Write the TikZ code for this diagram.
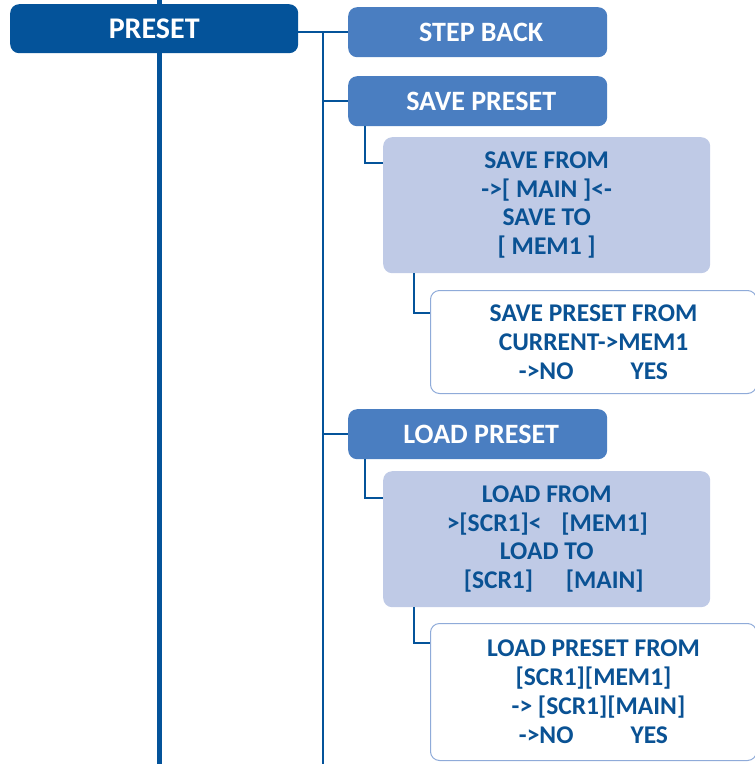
\documentclass[tikz,border=0pt]{standalone}
\usepackage{fontspec}
\setmainfont{Carlito}
\usetikzlibrary{calc}
\definecolor{darkblue}{HTML}{04539A}
\definecolor{midblue}{HTML}{4A7EC1}
\definecolor{lightblue}{HTML}{BFCAE6}
\definecolor{textblue}{HTML}{0A5294}
\definecolor{borderblue}{HTML}{8FABD9}
\begin{document}
\begin{tikzpicture}[x=1pt,y=-1pt,
  mainbox/.style={anchor=north west,fill=darkblue,text=white,rounded corners=9pt,inner sep=0pt,
     minimum width=288pt,minimum height=49pt,font=\bfseries\fontsize{30}{34}\selectfont},
  btnbox/.style={anchor=north west,fill=midblue,text=white,rounded corners=9pt,inner sep=0pt,
     minimum width=259pt,minimum height=50pt,font=\bfseries\fontsize{28}{32}\selectfont},
  infobox/.style={anchor=north west,fill=lightblue,text=textblue,rounded corners=9pt,inner sep=0pt,
     minimum width=327pt,minimum height=136pt,align=center,font=\bfseries\fontsize{25.5}{28.5}\selectfont},
  askbox/.style={anchor=north west,fill=white,draw=borderblue,line width=1pt,text=textblue,rounded corners=9pt,inner sep=0pt,
     minimum width=326pt,align=center,font=\bfseries\fontsize{25.5}{29}\selectfont},
  trunk/.style={draw=darkblue,line width=5pt},
  link/.style={draw=darkblue,line width=2.3pt}]
\useasboundingbox (0,0) rectangle (755,764);
\coordinate (mTop) at (159,0);
\coordinate (mBot) at (159,764);
\draw[trunk] (mTop) -- (mBot);

\node[mainbox] (preset) at (10,4) {PRESET};
\node[btnbox] (stepback) at (348,7) {\hspace{7pt}STEP BACK};
\node[btnbox] (savepreset) at (348,76) {\hspace{7pt}SAVE PRESET};
\node[infobox] (savefrom) at (383,137) {SAVE FROM\\->{[} MAIN ]<-\\SAVE TO\\{[} MEM1 ]};
\node[askbox,minimum height=103pt] (saveask) at (430,290) {SAVE PRESET FROM\\CURRENT->MEM1\\->NO\hspace{57pt}YES};
\node[btnbox] (loadpreset) at (348,409) {\hspace{7pt}LOAD PRESET};
\node[infobox] (loadfrom) at (383,471) {LOAD FROM\\\hspace{14pt}\llap{>}\makebox[102pt][l]{[SCR1]<}[MEM1]\\LOAD TO\\\hspace{14pt}\makebox[102pt][l]{[SCR1]}[MAIN]};
\node[askbox,minimum height=137pt] (loadask) at (430,623) {LOAD PRESET FROM\\{[}SCR1][MEM1]\\\hspace{10pt}-> [SCR1][MAIN]\\->NO\hspace{57pt}YES};

\coordinate (tTop) at (323,32);
\coordinate (tBot) at (323,764);
\draw[link] (preset.east |- stepback.west) -- (stepback.west);
\draw[link] (tTop) -- (tBot);
\draw[link] (tTop |- savepreset.west) -- (savepreset.west);
\draw[link] (tTop |- loadpreset.west) -- (loadpreset.west);
\draw[link] ($(savepreset.south west)+(17,0)$) |- ($(savefrom.north west)+(0,26)$);
\draw[link] ($(savefrom.south west)+(31,0)$) |- ($(saveask.north west)+(0,23)$);
\draw[link] ($(loadpreset.south west)+(17,0)$) |- ($(loadfrom.north west)+(0,27)$);
\draw[link] ($(loadfrom.south west)+(31,0)$) |- ($(loadask.north west)+(0,20)$);
\end{tikzpicture}
\end{document}
